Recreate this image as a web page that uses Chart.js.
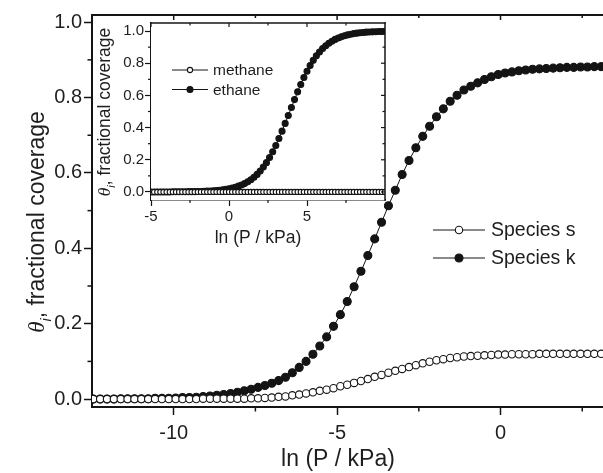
<!DOCTYPE html>
<html><head><meta charset="utf-8">
<script src="https://cdn.jsdelivr.net/npm/chart.js@4/dist/chart.umd.min.js"></script>
<style>
html,body{margin:0;padding:0;background:#fff;overflow:hidden;width:603px;height:473px;position:relative}
canvas{position:absolute;left:0;top:0}
</style></head><body>
<canvas id="main" width="620" height="473"></canvas>
<canvas id="inset" width="400" height="260"></canvas>
<script>
// ---------- main chart data ----------
const lnP = [-12.46,-12.25,-12.04,-11.83,-11.62,-11.41,-11.20,-10.99,-10.78,-10.57,-10.36,-10.15,-9.94,-9.73,-9.52,-9.31,-9.10,-8.89,-8.68,-8.47,-8.26,-8.05,-7.84,-7.63,-7.42,-7.21,-7.00,-6.79,-6.58,-6.37,-6.16,-5.95,-5.74,-5.53,-5.32,-5.11,-4.90,-4.69,-4.48,-4.27,-4.06,-3.85,-3.64,-3.43,-3.22,-3.01,-2.80,-2.59,-2.38,-2.17,-1.96,-1.75,-1.54,-1.33,-1.12,-0.91,-0.70,-0.49,-0.28,-0.07,0.14,0.35,0.56,0.77,0.98,1.19,1.40,1.61,1.82,2.03,2.24,2.45,2.66,2.87,3.08];
const speciesS = [0.000,0.000,0.000,0.000,0.000,0.000,0.000,0.000,0.000,0.000,0.000,0.000,0.000,0.000,0.000,0.000,0.001,0.001,0.001,0.001,0.001,0.001,0.001,0.002,0.002,0.003,0.004,0.006,0.007,0.010,0.012,0.015,0.018,0.022,0.025,0.029,0.034,0.038,0.043,0.048,0.053,0.059,0.064,0.070,0.075,0.080,0.085,0.090,0.095,0.099,0.103,0.106,0.109,0.111,0.113,0.114,0.115,0.116,0.117,0.118,0.118,0.119,0.119,0.119,0.119,0.120,0.120,0.120,0.120,0.120,0.120,0.120,0.120,0.120,0.120];
const speciesK = [0.000,0.000,0.000,0.000,0.001,0.001,0.001,0.001,0.001,0.002,0.002,0.002,0.003,0.004,0.004,0.005,0.007,0.008,0.010,0.012,0.015,0.018,0.022,0.026,0.031,0.036,0.042,0.049,0.058,0.070,0.084,0.100,0.119,0.141,0.165,0.193,0.224,0.259,0.298,0.339,0.381,0.425,0.469,0.513,0.554,0.596,0.633,0.667,0.697,0.724,0.749,0.770,0.790,0.806,0.820,0.830,0.839,0.848,0.855,0.861,0.865,0.868,0.871,0.873,0.875,0.876,0.877,0.878,0.879,0.880,0.880,0.881,0.881,0.882,0.882];
const mainXTicks = [-10,-5,0];
const mainXMinor = [-7.5,-2.5,2.5];
const mainYTicks = [0,0.2,0.4,0.6,0.8,1.0];
const mainYMinor = [0.1,0.3,0.5,0.7,0.9];
const mainLabels = ['Species s','Species k'];

// ---------- inset data ----------
const insetLnP = [-5.0,-4.8,-4.6,-4.4,-4.2,-4.0,-3.8,-3.6,-3.4,-3.2,-3.0,-2.8,-2.6,-2.4,-2.2,-2.0,-1.8,-1.6,-1.4,-1.2,-1.0,-0.8,-0.6,-0.4,-0.2,0.0,0.2,0.4,0.6,0.8,1.0,1.2,1.4,1.6,1.8,2.0,2.2,2.4,2.6,2.8,3.0,3.2,3.4,3.6,3.8,4.0,4.2,4.4,4.6,4.8,5.0,5.2,5.4,5.6,5.8,6.0,6.2,6.4,6.6,6.8,7.0,7.2,7.4,7.6,7.8,8.0,8.2,8.4,8.6,8.8,9.0,9.2,9.4,9.6,9.8,10.0];
const methane = [0.000,0.000,0.000,0.000,0.000,0.000,0.000,0.000,0.000,0.000,0.000,0.000,0.000,0.000,0.000,0.000,0.000,0.000,0.000,0.000,0.000,0.000,0.000,0.000,0.000,0.000,0.000,0.000,0.000,0.000,0.000,0.000,0.000,0.000,0.000,0.000,0.000,0.000,0.000,0.000,0.000,0.000,0.000,0.000,0.000,0.000,0.000,0.000,0.000,0.000,0.000,0.000,0.000,0.000,0.000,0.000,0.000,0.000,0.000,0.000,0.000,0.000,0.000,0.000,0.000,0.000,0.000,0.000,0.000,0.000,0.000,0.000,0.000,0.000,0.000,0.000];
const ethane = [0.000,0.000,0.000,0.000,0.000,0.000,0.000,0.001,0.001,0.001,0.001,0.001,0.002,0.002,0.002,0.003,0.003,0.004,0.005,0.006,0.007,0.009,0.011,0.013,0.016,0.020,0.024,0.029,0.036,0.043,0.052,0.063,0.076,0.091,0.109,0.130,0.155,0.182,0.214,0.250,0.289,0.332,0.378,0.426,0.475,0.525,0.574,0.622,0.668,0.711,0.750,0.786,0.818,0.846,0.870,0.891,0.909,0.924,0.937,0.948,0.957,0.964,0.971,0.976,0.980,0.984,0.987,0.989,0.991,0.993,0.994,0.995,0.996,0.997,0.997,0.998];
const insetXTicks = [-5,0,5];
const insetXMinor = [-2.5,2.5,7.5];
const insetYTicks = [0,0.2,0.4,0.6,0.8,1.0];
const insetYMinor = [0.1,0.3,0.5,0.7,0.9];
const insetLabels = ['methane','ethane'];

const INK = '#141414';
const TXT = '#1e1e1e';
const SANS = '"Liberation Sans", Arial, sans-serif';

function pts(xs, ys){ return xs.map((x,i)=>({x:x, y:ys[i]})); }

const extras = {
  id: 'extras',
  beforeDatasetsDraw(chart, args, o) {
    if (!o.whiteArea) return;
    const a = chart.chartArea, ctx = chart.ctx;
    ctx.save(); ctx.fillStyle = '#fff';
    ctx.fillRect(a.left, a.top, a.right - a.left, a.bottom - a.top);
    ctx.restore();
  },
  afterDraw(chart, args, o) {
    const ctx = chart.ctx, a = chart.chartArea, xs = chart.scales.x, ys = chart.scales.y;
    const line = (x1,y1,x2,y2)=>{ctx.beginPath();ctx.moveTo(x1,y1);ctx.lineTo(x2,y2);ctx.stroke();};
    ctx.save();
    ctx.strokeStyle = INK;
    ctx.lineWidth = o.tickWidth;
    o.xMinor.forEach(v=>{const p=xs.getPixelForValue(v); line(p,a.bottom,p,a.bottom+o.minorLen);});
    o.yMinor.forEach(v=>{const p=ys.getPixelForValue(v); line(a.left,p,a.left-o.minorLen,p);});
    // inward ticks on top / right
    o.xMajor.concat(o.xMinor).forEach(v=>{const p=xs.getPixelForValue(v); const L=o.xMajor.includes(v)?o.inMajor:o.inMinor; line(p,a.top,p,a.top+L);});
    if (o.rightTicks) o.yMajor.concat(o.yMinor).forEach(v=>{const p=ys.getPixelForValue(v); const L=o.yMajor.includes(v)?o.inMajor:o.inMinor; line(a.right,p,a.right-L,p);});
    // frame
    ctx.lineWidth = o.frameWidth;
    ctx.lineCap = 'square';
    line(a.left, a.top, a.right, a.top);
    line(a.right, a.top, a.right, a.bottom);
    ctx.lineCap = 'butt';
    // x title
    ctx.fillStyle = TXT;
    ctx.textAlign = 'center'; ctx.textBaseline = 'alphabetic';
    ctx.font = o.titleSize + 'px ' + SANS;
    ctx.fillText(o.xTitle, o.xTitlePos[0], o.xTitlePos[1]);
    // y title (rotated) : theta_i, fractional coverage
    ctx.save();
    ctx.translate(o.yTitlePos[0], o.yTitlePos[1]);
    ctx.rotate(-Math.PI/2);
    const s = o.titleSize;
    const fTh = 'italic ' + s + 'px "Liberation Serif", serif';
    const fSub = 'italic ' + Math.round(s*0.62) + 'px ' + SANS;
    const fRest = s + 'px ' + SANS;
    ctx.textAlign = 'left';
    ctx.font = fTh; const wTh = ctx.measureText(o.yTitleSym).width;
    ctx.font = fSub; const wSub = ctx.measureText(o.yTitleSub).width;
    ctx.font = fRest; const wRest = ctx.measureText(o.yTitleRest).width;
    let x0 = -(wTh + wSub + wRest)/2;
    ctx.font = fTh; ctx.fillText(o.yTitleSym, x0, 0);
    ctx.font = fSub; ctx.fillText(o.yTitleSub, x0 + wTh, s*0.3);
    ctx.font = fRest; ctx.fillText(o.yTitleRest, x0 + wTh + wSub, 0);
    ctx.restore();
    // legend
    const L = o.legend;
    chart.data.datasets.forEach((ds, k)=>{
      const y = L.y0 + k*L.dy;
      ctx.lineWidth = 1; ctx.strokeStyle = INK;
      line(L.x1, y, L.x2, y);
      ctx.beginPath(); ctx.arc(L.mx, y, ds.pointRadius, 0, Math.PI*2);
      ctx.fillStyle = ds.pointBackgroundColor; ctx.fill();
      ctx.lineWidth = ds.pointBorderWidth; ctx.stroke();
      ctx.fillStyle = TXT; ctx.font = L.size + 'px ' + SANS;
      ctx.textAlign = 'left'; ctx.textBaseline = 'middle';
      ctx.fillText(ds.label, L.tx, y + 1);
    });
    ctx.restore();
  }
};

function makeChart(id, cfg) {
  return new Chart(document.getElementById(id), {
    type: 'scatter',
    data: { datasets: cfg.datasets },
    options: {
      responsive: false, animation: false, events: [],
      layout: { padding: cfg.padding },
      plugins: { legend: {display:false}, tooltip: {enabled:false}, extras: cfg.extras },
      scales: {
        x: {
          type: 'linear', min: cfg.xmin, max: cfg.xmax,
          afterBuildTicks: s => { s.ticks = cfg.xTicks.map(v=>({value:v})); },
          afterFit: s => { s.height = cfg.xAxisH; },
          ticks: { callback: v => String(v), color: TXT, font: {family: SANS, size: cfg.tickSize}, padding: cfg.xPad, maxRotation: 0 },
          grid: { drawOnChartArea: false, drawTicks: true, tickLength: cfg.tickLen, tickColor: INK, tickWidth: cfg.tickWidth },
          border: { display: true, color: INK, width: cfg.frameWidth }
        },
        y: {
          type: 'linear', min: cfg.ymin, max: cfg.ymax,
          afterBuildTicks: s => { s.ticks = cfg.yTicks.map(v=>({value:v})); },
          afterFit: s => { s.width = cfg.yAxisW; },
          ticks: { callback: v => Number(v).toFixed(1), color: TXT, font: {family: SANS, size: cfg.tickSize}, padding: cfg.yPad },
          grid: { drawOnChartArea: false, drawTicks: true, tickLength: cfg.tickLen, tickColor: INK, tickWidth: cfg.tickWidth },
          border: { display: true, color: INK, width: cfg.frameWidth }
        }
      }
    },
    plugins: [extras]
  });
}

function ds(label, xs, ys, filled, r) {
  return {
    label: label, data: pts(xs, ys), showLine: true, borderColor: INK, borderWidth: 1,
    pointRadius: r, pointBackgroundColor: filled ? INK : '#ffffff', pointBorderColor: INK,
    pointBorderWidth: 1.1, tension: 0
  };
}

// main chart: chart area left 92, top 15, bottom 407; right beyond window (clipped)
makeChart('main', {
  datasets: [ ds(mainLabels[0], lnP, speciesS, false, 3.7), ds(mainLabels[1], lnP, speciesK, true, 4.0) ],
  padding: {left: 0, top: 15, right: 2.6, bottom: 0},
  xmin: -12.5, xmax: 3.5, ymin: -0.021, ymax: 1.019,
  xTicks: mainXTicks, yTicks: mainYTicks,
  xAxisH: 66, yAxisW: 92,
  tickSize: 20, tickLen: 8, tickWidth: 1.5, frameWidth: 2, xPad: 6, yPad: 2,
  extras: {
    xMajor: mainXTicks, xMinor: mainXMinor, yMajor: mainYTicks, yMinor: mainYMinor,
    minorLen: 4.5, inMajor: 5, inMinor: 3, tickWidth: 1.5, frameWidth: 2, rightTicks: false,
    titleSize: 23, xTitle: 'ln (P / kPa)', xTitlePos: [338, 466],
    yTitleSym: 'θ', yTitleSub: 'i', yTitleRest: ', fractional coverage', yTitlePos: [44, 222],
    legend: {y0: 230, dy: 28, x1: 433, x2: 485, mx: 459, tx: 491, size: 19.5},
    whiteArea: false
  }
});

// inset chart: chart area left 151, top 23, right 385, bottom 200
makeChart('inset', {
  datasets: [ ds(insetLabels[0], insetLnP, methane, false, 2.6), ds(insetLabels[1], insetLnP, ethane, true, 3.0) ],
  padding: {left: 0, top: 23, right: 15, bottom: 0},
  xmin: -5, xmax: 10, ymin: -0.05, ymax: 1.05,
  xTicks: insetXTicks, yTicks: insetYTicks,
  xAxisH: 60, yAxisW: 151,
  tickSize: 15, tickLen: 6, tickWidth: 1.2, frameWidth: 1.5, xPad: 2, yPad: 1,
  extras: {
    xMajor: insetXTicks, xMinor: insetXMinor, yMajor: insetYTicks, yMinor: insetYMinor,
    minorLen: 3, inMajor: 4, inMinor: 2.5, tickWidth: 1.2, frameWidth: 1.5, rightTicks: true,
    titleSize: 17.5, xTitle: 'ln (P / kPa)', xTitlePos: [258, 243],
    yTitleSym: 'θ', yTitleSub: 'i', yTitleRest: ', fractional coverage', yTitlePos: [110, 112],
    legend: {y0: 70, dy: 19.5, x1: 172, x2: 208, mx: 190, tx: 213, size: 15.5},
    whiteArea: true
  }
});
</script>
</body></html>
